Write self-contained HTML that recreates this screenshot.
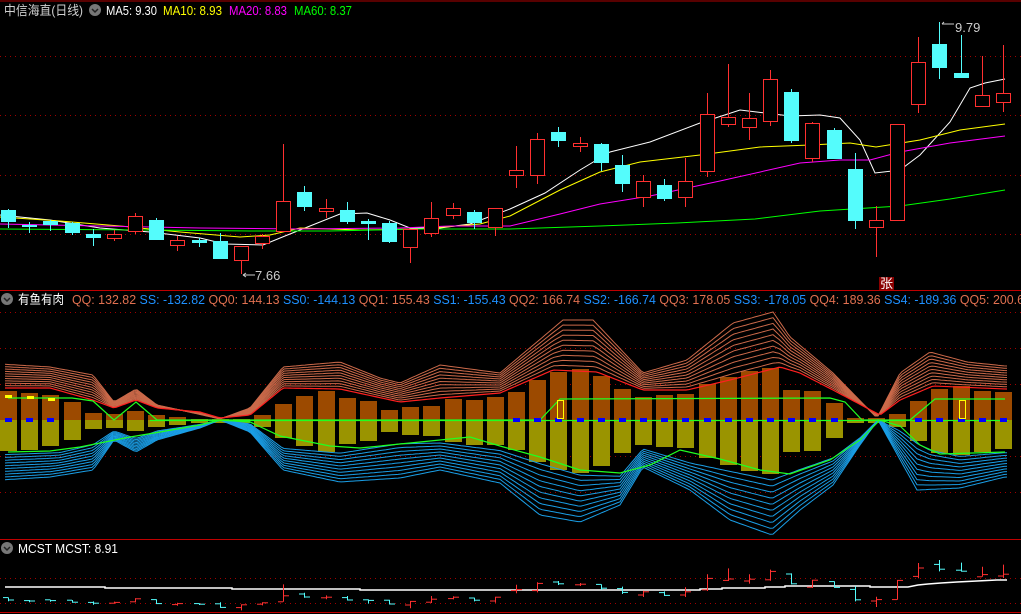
<!DOCTYPE html>
<html><head><meta charset="utf-8">
<style>
html,body{margin:0;padding:0;background:#000;width:1021px;height:614px;overflow:hidden}
svg{display:block}
text{font-family:"Liberation Sans","Noto Sans CJK SC",sans-serif;font-size:13px}
</style></head><body>
<svg id="s" width="1021" height="614" viewBox="0 0 1021 614" xmlns="http://www.w3.org/2000/svg">
<rect width="1021" height="614" fill="#000"/>
<g id="g"></g>
<line x1="0" y1="1" x2="1021" y2="1" stroke="#b00000"/>
<line x1="0" y1="290.5" x2="1021" y2="290.5" stroke="#c00000"/>
<line x1="0" y1="539.5" x2="1021" y2="539.5" stroke="#c00000"/>
<line x1="0" y1="612.5" x2="1021" y2="612.5" stroke="#c00000"/>
<text x="4" y="15" fill="#d0d0d0" textLength="79" lengthAdjust="spacingAndGlyphs">中信海直(日线)</text>
<circle cx="95" cy="10" r="6" fill="#777"/><path d="M92 9 l3 3 l3 -3" stroke="#222" fill="none" stroke-width="1.5"/>
<text x="106" y="15" fill="#fff" textLength="51" lengthAdjust="spacingAndGlyphs">MA5: 9.30</text>
<text x="163" y="15" fill="#ffff00" textLength="59" lengthAdjust="spacingAndGlyphs">MA10: 8.93</text>
<text x="229" y="15" fill="#ff00ff" textLength="58" lengthAdjust="spacingAndGlyphs">MA20: 8.83</text>
<text x="294" y="15" fill="#00ff00" textLength="58" lengthAdjust="spacingAndGlyphs">MA60: 8.37</text>
<text x="255" y="280" fill="#ccc" font-size="12">7.66</text>
<path d="M243 275 h12 M243 275 l3 -2 M243 275 l3 2" stroke="#ccc" fill="none"/>
<text x="955" y="32" fill="#ccc" font-size="12">9.79</text>
<path d="M942 24 h12 M942 24 l2 -2" stroke="#ccc" fill="none"/>
<rect x="879" y="277" width="15" height="13" fill="#8a0000"/><text x="880" y="288" fill="#fff" font-size="11">张</text>
<circle cx="7" cy="299" r="6" fill="#777"/><path d="M4 298 l3 3 l3 -3" stroke="#222" fill="none" stroke-width="1.5"/>
<text x="18" y="304" fill="#fff" textLength="46" lengthAdjust="spacingAndGlyphs">有鱼有肉</text>
<text x="72" y="304" font-size="12" textLength="952" lengthAdjust="spacingAndGlyphs"><tspan fill="#e07050">QQ: 132.82 </tspan><tspan fill="#1e90ff">SS: -132.82 </tspan><tspan fill="#e07050">QQ0: 144.13 </tspan><tspan fill="#1e90ff">SS0: -144.13 </tspan><tspan fill="#e07050">QQ1: 155.43 </tspan><tspan fill="#1e90ff">SS1: -155.43 </tspan><tspan fill="#e07050">QQ2: 166.74 </tspan><tspan fill="#1e90ff">SS2: -166.74 </tspan><tspan fill="#e07050">QQ3: 178.05 </tspan><tspan fill="#1e90ff">SS3: -178.05 </tspan><tspan fill="#e07050">QQ4: 189.36 </tspan><tspan fill="#1e90ff">SS4: -189.36 </tspan><tspan fill="#e07050">QQ5: 200.6</tspan></text>
<circle cx="7" cy="548" r="6" fill="#777"/><path d="M4 547 l3 3 l3 -3" stroke="#222" fill="none" stroke-width="1.5"/>
<text x="18" y="553" fill="#fff" font-size="12" textLength="100" lengthAdjust="spacingAndGlyphs">MCST  MCST: 8.91</text>
</svg>
<script>
var g=document.getElementById('g'),h='';
function L(x1,y1,x2,y2,c,extra){h+='<line x1="'+x1+'" y1="'+y1+'" x2="'+x2+'" y2="'+y2+'" stroke="'+c+'" '+(extra||'')+'/>';}
function P(pts,c,w){h+='<polyline fill="none" stroke="'+c+'" stroke-width="'+(w||1)+'" points="'+pts.map(function(p){return p[0]+','+p[1]}).join(' ')+'"/>';}
function interp(arr,x){for(var i=0;i<arr.length-1;i++){if(x<=arr[i+1][0]){var t=(x-arr[i][0])/(arr[i+1][0]-arr[i][0]);return arr[i][1]+t*(arr[i+1][1]-arr[i][1]);}}return arr[arr.length-1][1];}
[56,115,175,234,312,348,384,456,492,578,603].forEach(function(y){L(0,y+.5,1021,y+.5,'#a00000','stroke-dasharray="1,4"');});
var C=[[210,222,209,228,'c'],[225,227,222,233,'c'],[221,225,220,231,'c'],[223,233,222,235,'c'],[234,238,229,246,'c'],[234,238,230,241,'r'],[216,231,213,234,'r'],[220,240,218,240,'c'],[240,245,236,251,'r'],[240,243,238,247,'c'],[241,259,233,259,'c'],[246,260,246,274,'r'],[236,243,234,249,'r'],[201,231,144,231,'r'],[192,207,186,211,'c'],[208,211,199,218,'r'],[210,222,202,224,'c'],[221,224,219,240,'c'],[223,242,221,243,'c'],[229,247,229,263,'r'],[218,233,202,237,'r'],[208,215,203,219,'r'],[212,223,210,229,'c'],[208,227,208,236,'r'],
[170,175,146,188,'r'],[139,175,133,184,'r'],[132,141,127,147,'c'],[143,146,137,152,'r'],[144,163,143,171,'c'],[165,184,155,192,'c'],[181,197,175,207,'r'],[185,199,179,201,'c'],[181,197,158,207,'r'],[114,171,93,177,'r'],[117,124,64,127,'r'],[118,127,93,140,'r'],[79,121,70,126,'r'],[92,141,89,143,'c'],[123,158,122,162,'r'],[130,159,128,159,'c'],[169,221,153,229,'c'],[220,227,206,257,'r'],[124,220,124,221,'r'],[62,104,37,113,'r'],[44,68,22,79,'c'],[73,78,35,78,'c'],[95,106,56,106,'r'],[93,102,45,112,'r']];
function X(i){return Math.round(8+i*21.17);}
P([[0,215],[50,220],[100,228],[150,232],[200,238],[225,244],[263,245],[285,236],[310,226],[340,214],[367,213],[390,220],[410,228],[440,228],[470,224],[510,209],[545,193],[580,170],[610,152],[650,142],[700,123],[740,110],[790,116],[820,115],[840,118],[860,140],[875,173],[900,170],[920,155],[950,122],[970,88],[985,83],[1005,79]],'#fff');
P([[0,217],[60,221],[120,226],[180,232],[240,237],[270,235],[300,228],[360,230],[420,229],[480,224],[510,216],[560,190],[600,172],[640,162],[700,155],[760,147],[810,145],[850,143],[876,147],[920,140],[960,130],[1005,124]],'#ffff00');
P([[0,224],[100,226],[200,228],[300,229],[400,228],[450,226],[510,226],[560,214],[600,204],[650,196],[720,181],[800,163],[840,160],[870,160],[900,152],[950,143],[1005,136]],'#ff00ff');
P([[0,229],[150,230],[250,231],[330,231],[420,229],[510,229],[600,226],[677,223],[755,219],[820,211],[900,206],[950,199],[1005,190]],'#00ff00');
C.forEach(function(c,i){var x=X(i),col=c[4]=='c'?'#54fcfc':'#ff3030';
 L(x+.5,c[2],x+.5,c[3],col);
 if(c[4]=='c')h+='<rect x="'+(x-7)+'" y="'+c[0]+'" width="15" height="'+Math.max(1,c[1]-c[0])+'" fill="'+col+'"/>';
 else h+='<rect x="'+(x-6.5)+'" y="'+(c[0]+.5)+'" width="14" height="'+Math.max(1,c[1]-c[0])+'" fill="#000" stroke="'+col+'"/>';
});
var T=[391,393,395,402,413,414,411,415,417,419,419,419,415,404,396,391,398,401,410,407,406,399,400,397,392,380,372,369,376,389,397,395,394,384,377,371,368,390,391,403,418,418,414,401,389,386,391,392];
var B=[451,450,446,440,429,428,431,427,425,423,423,423,427,438,446,452,444,441,432,435,436,442,445,445,450,462,470,473,466,453,445,447,448,458,465,471,474,452,451,438,423,423,427,441,453,455,452,449];
T.forEach(function(t,i){var x=X(i);h+='<rect x="'+(x-8)+'" y="'+t+'" width="17" height="'+(420-t)+'" fill="#9c4a00"/><rect x="'+(x-8)+'" y="420" width="17" height="'+(B[i]-420)+'" fill="#9a9400"/>';});
var UO=[[0,364],[50,367],[93,375],[114,402],[136,389],[157,405],[180,410],[220,419],[250,408],[283,367],[340,362],[380,378],[400,383],[440,365],[500,373],[563,320],[593,320],[643,373],[687,360],[733,323],[773,312],[790,337],[833,373],[877,418],[900,373],[930,352],[967,362],[1005,366]];
var UI=[[0,388],[50,388],[93,400],[114,408],[136,400],[157,408],[200,412],[220,418],[250,415],[283,388],[340,389],[400,402],[440,398],[500,393],[553,370],[597,372],[643,390],[687,390],[730,380],[780,367],[800,373],[833,390],[880,415],[900,400],[933,386],[1005,389]];
var LI=[[0,452],[60,450],[93,442],[114,430],[136,437],[157,430],[200,424],[220,420],[250,423],[283,446],[340,450],[400,440],[440,440],[500,447],[540,458],[580,470],[620,473],[643,447],[690,460],[730,466],[772,474],[800,465],[833,455],[860,437],[878,420],[900,428],[930,446],[960,453],[1005,450]];
var LO=[[0,480],[50,477],[93,470],[114,440],[136,452],[157,440],[200,428],[220,420],[250,432],[283,470],[340,482],[400,478],[440,470],[500,483],[540,515],[580,522],[620,505],[643,467],[690,490],[730,520],[772,535],[800,510],[833,485],[860,445],[878,420],[917,490],[960,488],[1005,477]];
function fan(I,O,col,n){for(var k=1;k<=n;k++){var pts=[];for(var x=5;x<=1008;x+=3){var a=interp(I,x),b=interp(O,x);pts.push([x,(a+(b-a)*k/n).toFixed(1)]);}P(pts,col);}}
fan(UI,UO,'#cc6a4a',10);fan(LI,LO,'#1a9ee6',10);
var ri=[];for(var x=5;x<=1008;x+=3)ri.push([x,interp(UI,x)]);P(ri,'#ff2020',1.2);
P([[8,398],[72,398],[93,401],[114,420],[136,402],[157,420],[500,420],[540,420],[560,399],[830,398],[845,402],[862,420],[910,420],[935,399],[1005,399]],'#20ff20',1.2);
P([[8,452],[50,451],[80,447],[130,437],[160,432],[200,425],[220,420],[250,422],[280,436],[330,446],[360,448],[420,442],[470,437],[500,446],[540,457],[580,470],[620,473],[650,465],[680,450],[720,459],[760,470],[790,474],[830,460],[860,440],[880,420],[900,426],[920,445],[940,454],[1005,452]],'#20ff20',1.2);
L(150,420.5,1008,420.5,'#20ff20','stroke-width="1.2"');
T.forEach(function(t,i){if((i<3||i>23) && t<410){var x=X(i);h+='<rect x="'+(x-3)+'" y="418" width="7" height="4" fill="#0000ff"/>';}});
[[8,395],[30,396],[51,398]].forEach(function(p){h+='<rect x="'+(p[0]-3)+'" y="'+p[1]+'" width="7" height="3" fill="#ffff00"/>';});
h+='<rect x="557.5" y="400.5" width="6" height="18" fill="none" stroke="#ffff00"/><rect x="959.5" y="400.5" width="6" height="18" fill="none" stroke="#ffff00"/>';
P([[5,587],[105,587],[105,588],[232,588],[232,589],[360,589],[360,590],[700,590],[700,589],[722,589],[722,588],[765,588],[765,587],[785,587],[785,586],[870,586],[870,587],[908,587],[918,585],[928,584],[941,583],[957,582],[977,581],[997,580],[1007,580]],'#fff',1.5);
C.forEach(function(c,i){var x=X(i),col=c[4]=='c'?'#54fcfc':'#ff3030';function m(y){return (560+(y-22)*0.2).toFixed(1);}
 var o=c[4]=='c'?c[0]:c[1],cl=c[4]=='c'?c[1]:c[0];
 L(x+.5,m(c[2]),x+.5,m(c[3]),col);L(x-5,m(o),x,m(o),col);L(x,m(cl),x+6,m(cl),col);});
g.innerHTML=h;
</script>
</body></html>
